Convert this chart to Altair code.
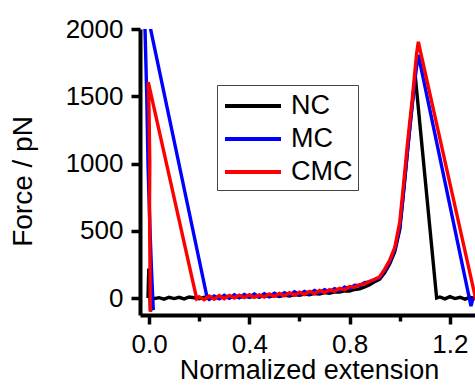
import altair as alt
import pandas as pd

series_names = ["NC", "MC", "CMC"]
series_colors = ["#000000", "#0000ff", "#ff0000"]

x_major_ticks = [0.0, 0.4, 0.8, 1.2]
x_minor_ticks = [0.2, 0.6, 1.0]
y_ticks = [0, 500, 1000, 1500, 2000]

# shared sampling positions of the noisy baseline and of the rising edge
flat_x = [0.02, 0.04, 0.06, 0.08, 0.10, 0.12, 0.14, 0.16, 0.18, 0.20,
          0.22, 0.24, 0.26, 0.28, 0.30, 0.32, 0.34, 0.36, 0.38, 0.40,
          0.42, 0.44, 0.46, 0.48, 0.50, 0.52, 0.54, 0.56, 0.58, 0.60,
          0.62, 0.64, 0.66, 0.68, 0.70, 0.72, 0.74, 0.76, 0.78, 0.80,
          0.82, 0.84, 0.86, 0.88, 0.90]
rise_x = [0.92, 0.94, 0.96, 0.98, 1.00, 1.01, 1.02, 1.03, 1.04, 1.05, 1.06]

# NC (black)
nc_head_x = [-0.004, -0.001, 0.002, 0.006, 0.010, 0.014]
nc_head_y = [0, 220, 80, -100, -30, 5]
nc_flat_y = [-5, 3, -8, 6, -4, 5, -6, 8, 2, -5,
             6, -3, 8, -2, 10, 2, 12, 4, 14, 6,
             15, 8, 18, 10, 20, 12, 22, 15, 26, 20,
             30, 24, 34, 30, 40, 36, 46, 44, 54, 52,
             64, 68, 82, 98, 122]
nc_rise_y = [140, 190, 255, 345, 510, 690, 880, 1080, 1270, 1450, 1630]
nc_tail_x = [1.062, 1.147, 1.16, 1.18, 1.20, 1.22, 1.24, 1.26, 1.28, 1.30, 1.32]
nc_tail_y = [1645, 0, 8, -6, 10, -4, 6, -8, 5, -3, 2]

# MC (blue)
mc_head_x = [0.017, 0.010, 0.004, -0.001, -0.004, -0.009, -0.016, -0.018, 0.232]
mc_head_y = [-90, 200, 500, 800, 1000, 1500, 2000, 2214, 0]
mc_flat_y = [-10, 15, -6, 20, -2, 24, 2, 26, 6, 30,
             8, 32, 12, 36, 16, 40, 20, 46, 26, 50,
             32, 56, 38, 62, 46, 70, 56, 82, 70, 95,
             92, 115, 120, 138]
mc_rise_y = [150, 205, 270, 360, 530, 705, 890, 1080, 1260, 1440, 1620]
mc_tail_x = [1.07, 1.074, 1.284, 1.29, 1.30, 1.31]
mc_tail_y = [1760, 1807, -60, -15, 5, 0]

# CMC (red)
cmc_head_x = [0.005, 0.004, 0.002, 0.003, 0.0, -0.003, 0.19]
cmc_head_y = [-100, 200, 700, 1000, 1400, 1605, -5]
cmc_flat_y = [10, -12, 15, -8, 18, -5, 20, 0, 22, 3,
              25, 5, 24, 8, 30, 12, 34, 16, 40, 20,
              44, 26, 50, 32, 56, 40, 62, 50, 72, 62,
              85, 80, 100, 105, 125, 140]
cmc_rise_y = [158, 215, 283, 375, 565, 750, 940, 1135, 1310, 1480, 1680]
cmc_tail_x = [1.067, 1.074, 1.302, 1.32]
cmc_tail_y = [1815, 1905, 0, 0]


def build(name, hx, hy, fy, ry, tx, ty):
    fx = flat_x[len(flat_x) - len(fy):]
    xs = hx + fx + rise_x + tx
    ys = hy + fy + ry + ty
    return pd.DataFrame({"series": name, "seq": range(len(xs)), "ext": xs, "force": ys})


df = pd.concat([
    build("NC", nc_head_x, nc_head_y, nc_flat_y, nc_rise_y, nc_tail_x, nc_tail_y),
    build("MC", mc_head_x, mc_head_y, mc_flat_y, mc_rise_y, mc_tail_x, mc_tail_y),
    build("CMC", cmc_head_x, cmc_head_y, cmc_flat_y, cmc_rise_y, cmc_tail_x, cmc_tail_y),
], ignore_index=True)

FONT = "Liberation Sans"

xscale = alt.Scale(domain=[-0.036, 1.3], nice=False, zero=False)
yscale = alt.Scale(domain=[-126, 2000], nice=False, zero=False)

color = alt.Color(
    "series:N",
    scale=alt.Scale(domain=series_names, range=series_colors),
    legend=alt.Legend(
        title=None, orient="none", legendX=77, legendY=56, direction="vertical",
        strokeColor="#444444", fillColor="white", padding=5,
        labelFont=FONT, labelFontSize=27, labelColor="black",
        symbolType="M-2,0H2", symbolSize=784, symbolStrokeWidth=4,
        symbolOffset=15, labelOffset=22, rowPadding=4,
    ),
)

x_axis = alt.Axis(
    values=x_major_ticks, format=".1f", orient="bottom", grid=False,
    labelFont=FONT, labelFontSize=26, labelColor="black", labelFlush=False,
    labelBaseline="alphabetic", labelPadding=28,
    tickSize=9, tickWidth=3.5, tickColor="black",
    domainWidth=4, domainColor="black",
    title="Normalized extension", titleFont=FONT, titleFontSize=27,
    titleFontWeight="normal", titleColor="black",
    titleX=169, titleY=63, titleAlign="center", titleBaseline="alphabetic",
)
y_axis = alt.Axis(
    values=y_ticks, format="d", grid=False,
    labelFont=FONT, labelFontSize=26, labelColor="black", labelPadding=8,
    tickSize=9, tickWidth=3.5, tickColor="black",
    domainWidth=4, domainColor="black",
    title="Force / pN", titleFont=FONT, titleFontSize=28,
    titleFontWeight="normal", titleColor="black", titleAngle=270,
    titleX=-109, titleY=152, titleAlign="center", titleBaseline="alphabetic",
)


def layer(name, with_x_axis):
    return alt.Chart(df).transform_filter(
        alt.datum.series == name
    ).mark_line(strokeWidth=3.4, clip=True).encode(
        x=alt.X("ext:Q", scale=xscale, axis=x_axis if with_x_axis else None),
        y=alt.Y("force:Q", scale=yscale, axis=y_axis),
        color=color,
        order="seq:Q",
    )


minor_df = pd.DataFrame({"ext": x_minor_ticks})
minor = alt.Chart(minor_df).mark_point(opacity=0).encode(
    x=alt.X("ext:Q", scale=xscale, axis=alt.Axis(
        values=x_minor_ticks, orient="bottom", labels=False, domain=False,
        grid=False, tickSize=6, tickWidth=3.5, tickColor="black", title=None)),
)

chart = alt.layer(
    layer("NC", True), layer("MC", False), layer("CMC", False), minor
).resolve_axis(x="independent").properties(
    width=335, height=286,
    autosize=alt.AutoSizeParams(type="none"),
    padding={"left": 140, "top": 29, "right": 0, "bottom": 76},
    background="white",
).configure_view(stroke=None)

chart.save("out.html", embed_options={"renderer": "svg", "actions": False})
